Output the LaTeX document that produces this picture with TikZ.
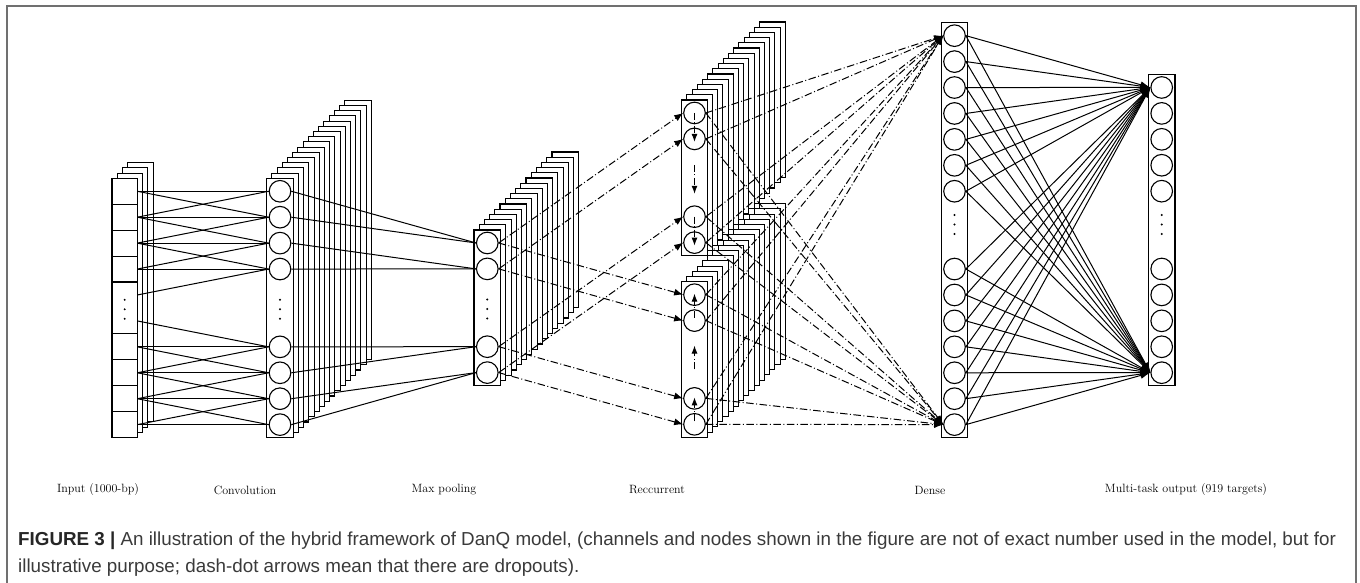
\documentclass[tikz,border=0pt]{standalone}
\usepackage{fontspec}
\newfontfamily\capfont{Liberation Sans}
\usetikzlibrary{arrows.meta}

\definecolor{framegray}{HTML}{707070}
\definecolor{captext}{HTML}{3A3A3A}

% a layer drawn as a front box with #5 white copies stacked behind it
% #1 left x, #2 top y, #3 width, #4 height, #5 copies behind, #6 offset per copy
\newcommand\layerstack[6]{%
  \foreach \k in {#5,...,0} {
    \draw[layerbox] ({#1+#6*\k},{#2-#6*\k}) rectangle ++(#3,#4);
  }%
}
% three small dots standing for the omitted units
\newcommand\unitdots[2]{%
  \foreach \dd in {-9.5,0,9.5} \fill (#1,{#2+\dd}) circle (1.1);%
}

\tikzset{
  layerbox/.style={draw, fill=white, line width=1.1pt},
  unit/.style={circle, draw, line width=1.1pt, minimum size=21.6pt, inner sep=0pt},
  link/.style={line width=1pt},
  linkarrow/.style={line width=1pt, -{Latex[length=10pt,width=7pt]}},
  droparrow/.style={line width=1pt, dash pattern=on 7.5pt off 2.5pt on 1pt off 2.5pt,
                    -{Latex[length=9pt,width=7pt]}},
  looparrow/.style={line width=1pt, dash pattern=on 7pt off 2.5pt on 1pt off 2.5pt,
                    -{Latex[length=8pt,width=6pt]}},
  layerlabel/.style={font=\fontsize{12}{14}\selectfont, inner sep=0pt},
}

\begin{document}
\begin{tikzpicture}[x=1pt,y=-1pt]
\useasboundingbox (0,0) rectangle (1360,583);

% page frame
\draw[framegray, line width=2pt] (7.3,583) -- (7.3,6.5) -- (1355.7,6.5) -- (1355.7,583);

% ---------------- input layer ----------------
\layerstack{112}{178.3}{25.3}{259.3}{3}{5.25}
\foreach \i in {1,2,3,4,6,7,8,9}
  \draw[line width=1.1pt] (112,{178.3+\i*25.93}) -- (137.3,{178.3+\i*25.93});
\foreach \i in {1,...,10}
  \coordinate (x\i) at (137.3,{178.3+(\i-0.5)*25.93});
\unitdots{124.7}{309.3}

% ---------------- convolution ----------------
\layerstack{266.7}{178.3}{26.6}{259.3}{15}{5.2}
\foreach \i in {1,2,3,4,7,8,9,10}
  \node[unit] (c\i) at (280,{178.3+(\i-0.5)*25.93}) {};
\unitdots{280}{309.3}

% ---------------- max pooling ----------------
\layerstack{474}{230}{26.7}{155.6}{15}{5.2}
\foreach \i/\s in {1/0,2/1,3/4,4/5}
  \node[unit] (p\i) at (487.3,{230+(\s+0.5)*25.93}) {};
\unitdots{487.3}{309}

% ---------------- recurrent (two directions) ----------------
\layerstack{681.7}{100}{25.6}{155.6}{15}{5.2}
\foreach \i/\s in {1/0,2/1,3/4,4/5}
  \node[unit] (u\i) at (694.5,{100+(\s+0.5)*25.93}) {};
\coordinate (ua) at (694.5,{100+2.5*25.93});
\coordinate (ub) at (694.5,{100+3.5*25.93});

\layerstack{681.7}{281.7}{25.6}{155.6}{15}{5.2}
\foreach \i/\s in {1/0,2/1,3/4,4/5}
  \node[unit] (l\i) at (694.5,{281.7+(\s+0.5)*25.93}) {};
\coordinate (la) at (694.5,{281.7+2.5*25.93});
\coordinate (lb) at (694.5,{281.7+3.5*25.93});

% ---------------- dense ----------------
\draw[layerbox] (941.7,22.7) rectangle (967.3,437.6);
\foreach \i/\s in {1/0,2/1,3/2,4/3,5/4,6/5,7/6,8/9,9/10,10/11,11/12,12/13,13/14,14/15}
  \node[unit] (d\i) at (954.5,{22.7+(\s+0.5)*25.93}) {};
\unitdots{954.5}{224.5}

% ---------------- output ----------------
\draw[layerbox] (1148.3,74.5) rectangle (1175,385.7);
\foreach \i/\s in {1/0,2/1,3/2,4/3,5/4,6/7,7/8,8/9,9/10,10/11}
  \node[unit] (o\i) at (1161.7,{74.5+(\s+0.5)*25.93}) {};
\unitdots{1161.7}{224.5}

% ---------------- connections ----------------
% input -> convolution (kernel of width three)
\foreach \a/\b in {1/1,1/2,2/1,2/2,2/3,3/2,3/3,3/4,4/3,4/4,5/4,
                   6/7,7/7,7/8,8/7,8/8,8/9,9/8,9/9,9/10,10/9,10/10}
  \draw[link] (x\a) -- (c\b.west);

% convolution -> max pooling
\foreach \a/\b in {1/1,2/1,3/2,4/2,7/3,8/3,9/4,10/4}
  \draw[link] (c\a.east) -- (p\b.west);

% max pooling -> both recurrent directions (dropout)
\foreach \i in {1,...,4} {
  \draw[droparrow] (p\i.east) -- (u\i.west);
  \draw[droparrow] (p\i.east) -- (l\i.west);
}

% recurrent connections inside each direction
\draw[looparrow, shorten >=-3pt] (u1.center) -- (u2.center);
\draw[looparrow, shorten >=-3pt] (ua) -- (ub);
\draw[looparrow, shorten >=-3pt] (u3.center) -- (u4.center);
\draw[looparrow, shorten >=-1pt] ([yshift=3pt]l2.center) -- (l1.center);
\draw[looparrow, shorten >=-1pt] ([yshift=3pt]lb) -- (la);
\draw[looparrow, shorten >=-1pt] ([yshift=3pt]l4.center) -- (l3.center);

% recurrent -> dense (dropout)
\foreach \i in {1,...,4} {
  \draw[droparrow] (u\i.east) -- (d1.west);
  \draw[droparrow] (u\i.east) -- (d14.west);
  \draw[droparrow] (l\i.east) -- (d1.west);
  \draw[droparrow] (l\i.east) -- (d14.west);
}

% dense -> multi-task output
\foreach \i in {1,...,14} {
  \draw[linkarrow] (d\i.east) -- (o1.west);
  \draw[linkarrow] (d\i.east) -- (o10.west);
}

% ---------------- layer names ----------------
\node[layerlabel] (t-in)   at (98,490)   {Input (1000-bp)};
\node[layerlabel] (t-conv) at (245,490)  {Convolution};
\node[layerlabel] (t-pool) at (444,490)  {Max pooling};
\node[layerlabel] (t-rec)  at (657,490)  {Reccurrent};
\node[layerlabel] (t-den)  at (930,490)  {Dense};
\node[layerlabel] (t-out)  at (1186,490) {Multi-task output (919 targets)};

% ---------------- caption ----------------
\node[anchor=base west, inner sep=0pt, text=captext,
      font=\capfont\fontsize{18.8}{22}\selectfont] (cap1) at (18,545)
  {\textbf{\color{black!85}FIGURE 3 |} An illustration of the hybrid framework of DanQ model, (channels and nodes shown in the figure are not of exact number used in the model, but for};
\node[anchor=base west, inner sep=0pt, text=captext,
      font=\capfont\fontsize{18.8}{22}\selectfont] (cap2) at (18,572)
  {illustrative purpose; dash-dot arrows mean that there are dropouts).};
\end{tikzpicture}
\end{document}
